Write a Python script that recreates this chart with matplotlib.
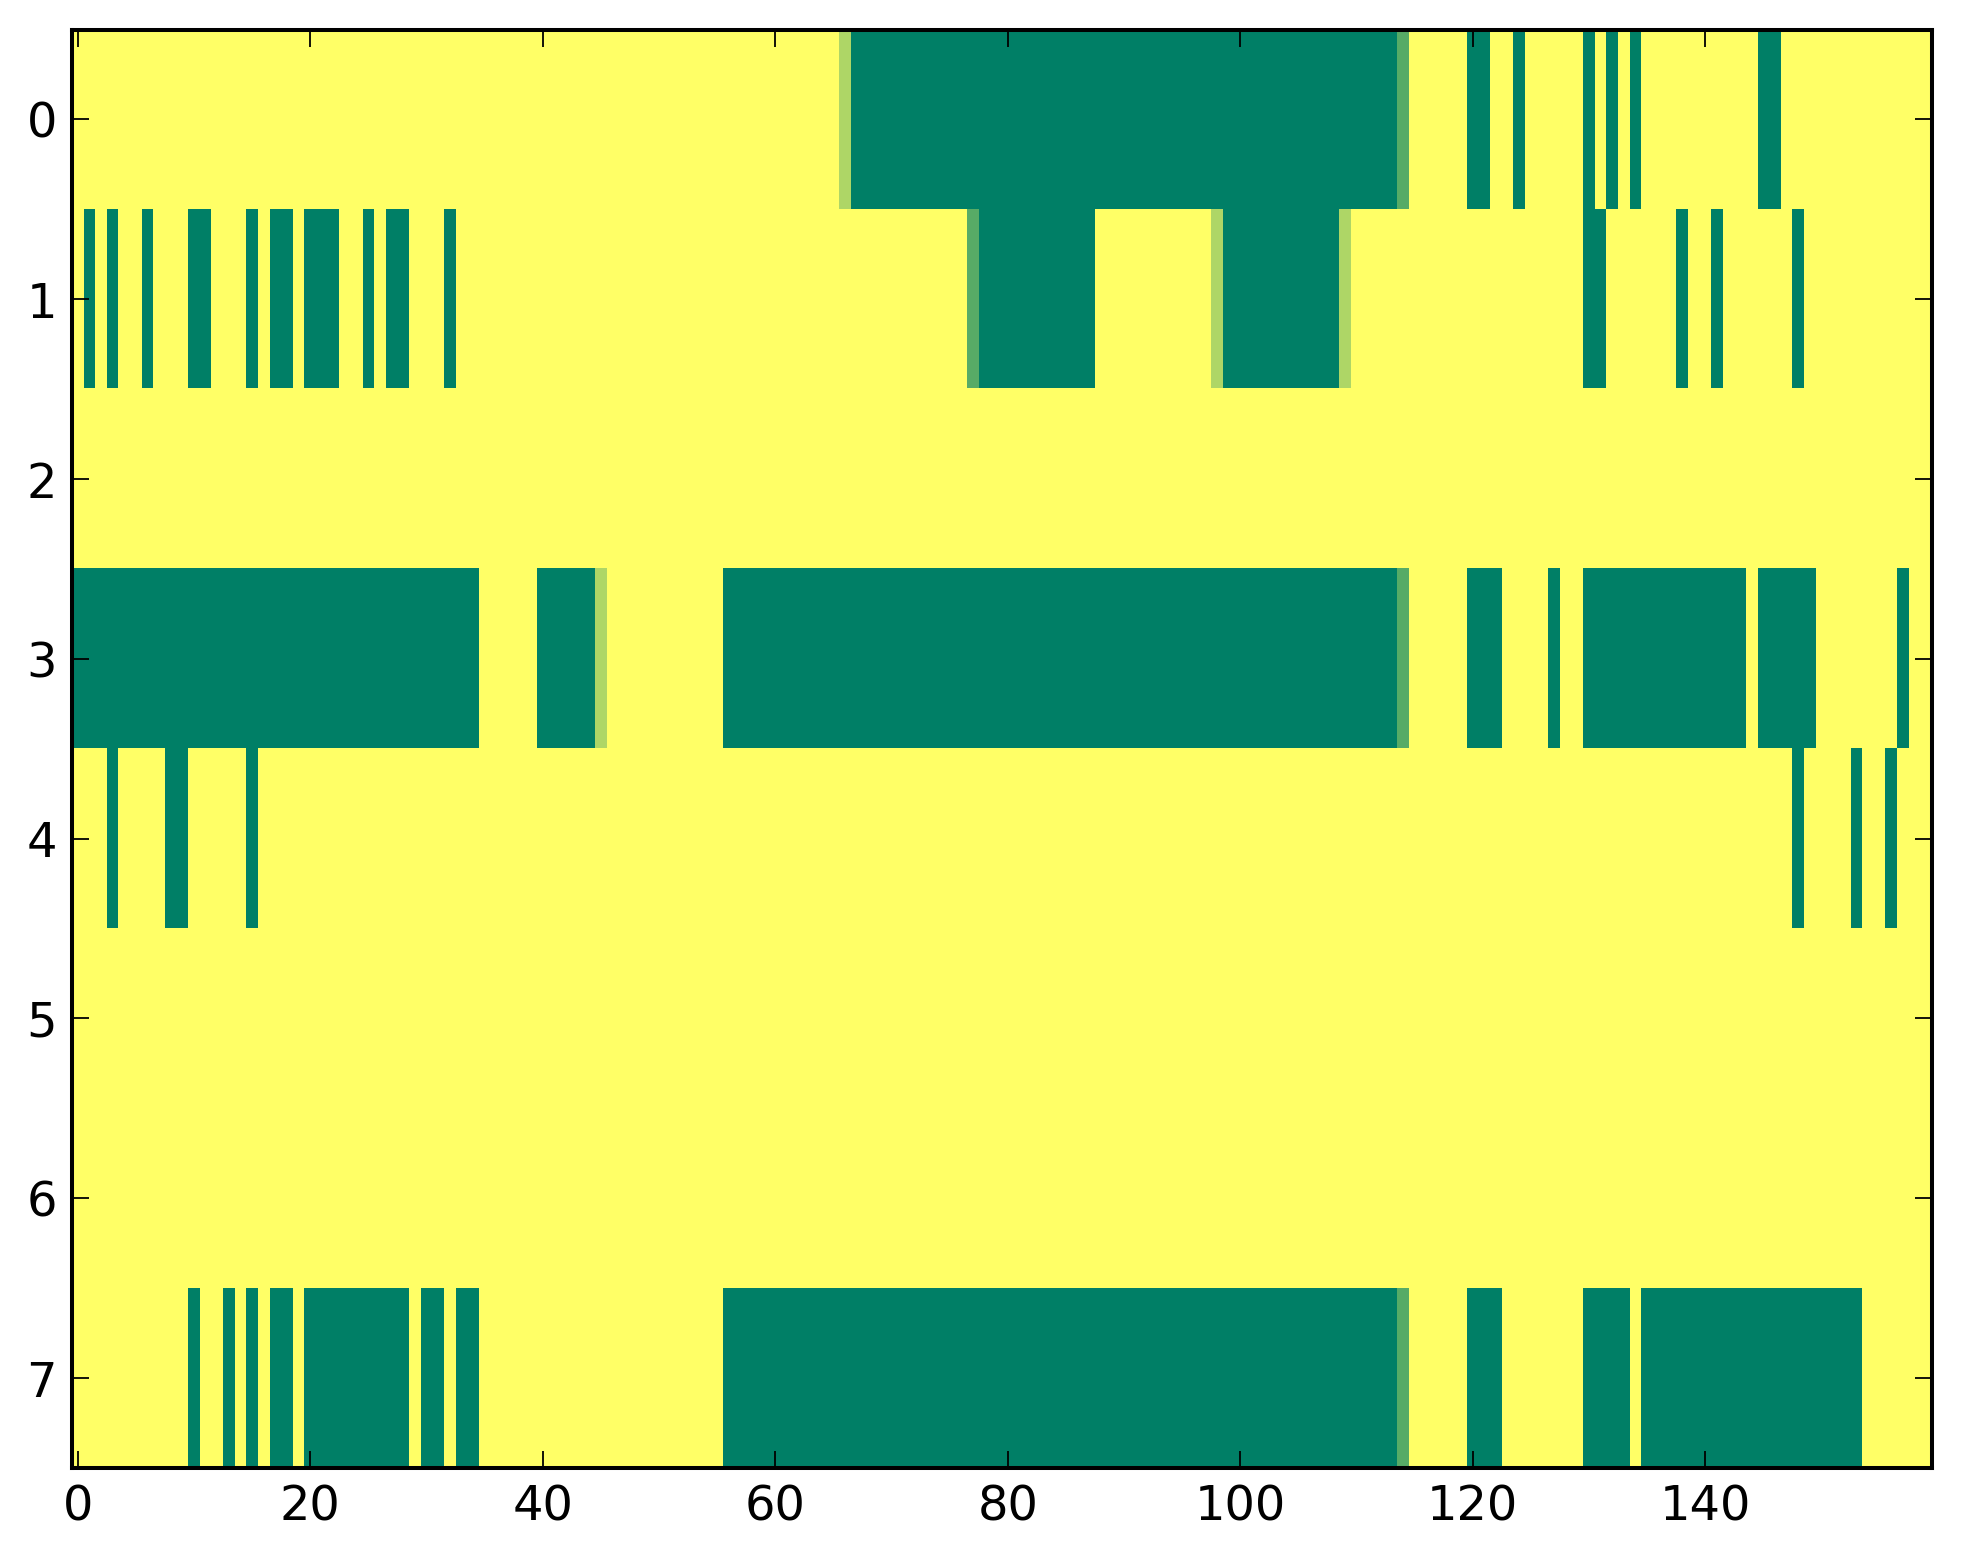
import numpy as np
import matplotlib
matplotlib.use("Agg")
import matplotlib.pyplot as plt

# Cell codes: '0' -> 0.0, '1' -> 1.0, 'a' -> 0.68, 'b' -> 0.34 (160 columns per row)
code_values = {"0": 0.0, "1": 1.0, "a": 0.68, "b": 0.34}

row0 = ("1111111111 1111111111 1111111111 1111111111 1111111111 1111111111 "
        "111111a000 0000000000 0000000000 0000000000 0000000000 0000b11111 "
        "0011011111 0101011111 1111100111 1111111111")
row1 = ("1010110111 0011101001 0001101001 1101111111 1111111111 1111111111 "
        "1111111111 1111111b00 0000000011 11111111a0 000000000a 1111111111 "
        "1111111111 0011111101 1011111101 1111111111")
row2 = ("1111111111 1111111111 1111111111 1111111111 1111111111 1111111111 "
        "1111111111 1111111111 1111111111 1111111111 1111111111 1111111111 "
        "1111111111 1111111111 1111111111 1111111111")
row3 = ("0000000000 0000000000 0000000000 0000011111 00000a1111 1111110000 "
        "0000000000 0000000000 0000000000 0000000000 0000000000 0000b11111 "
        "0001111011 0000000000 0000100000 1111111011")
row4 = ("1110111100 1111101111 1111111111 1111111111 1111111111 1111111111 "
        "1111111111 1111111111 1111111111 1111111111 1111111111 1111111111 "
        "1111111111 1111111111 1111111101 1110110111")
row5 = row2
row6 = row2
row7 = ("1111111111 0110101001 0000000001 0010011111 1111111111 1111110000 "
        "0000000000 0000000000 0000000000 0000000000 0000000000 0000b11111 "
        "0001111111 0000100000 0000000000 0000111111")

rows = [row0, row1, row2, row3, row4, row5, row6, row7]
data = np.array([[code_values[ch] for ch in r.replace(" ", "")] for r in rows])

xticks = [0, 20, 40, 60, 80, 100, 120, 140]
yticks = [0, 1, 2, 3, 4, 5, 6, 7]

fig = plt.figure(figsize=(19.63, 15.64), dpi=100)
ax = fig.add_axes([0.0367, 0.0614, 0.9475, 0.9197])
ax.imshow(data, cmap="summer", vmin=0, vmax=1, interpolation="nearest",
          aspect="auto")
ax.set_xlim(-0.5, data.shape[1] - 0.5)
ax.set_ylim(data.shape[0] - 0.5, -0.5)
ax.set_xticks(xticks)
ax.set_yticks(yticks)
ax.tick_params(direction="in", length=12.5, width=1.3, top=True, right=True,
               labelsize=34.5, pad=11)
for s in ax.spines.values():
    s.set_linewidth(2.9)
for lab in ax.get_xticklabels() + ax.get_yticklabels():
    lab.set_fontfamily("DejaVu Sans")

fig.savefig("out.png", dpi=100)
